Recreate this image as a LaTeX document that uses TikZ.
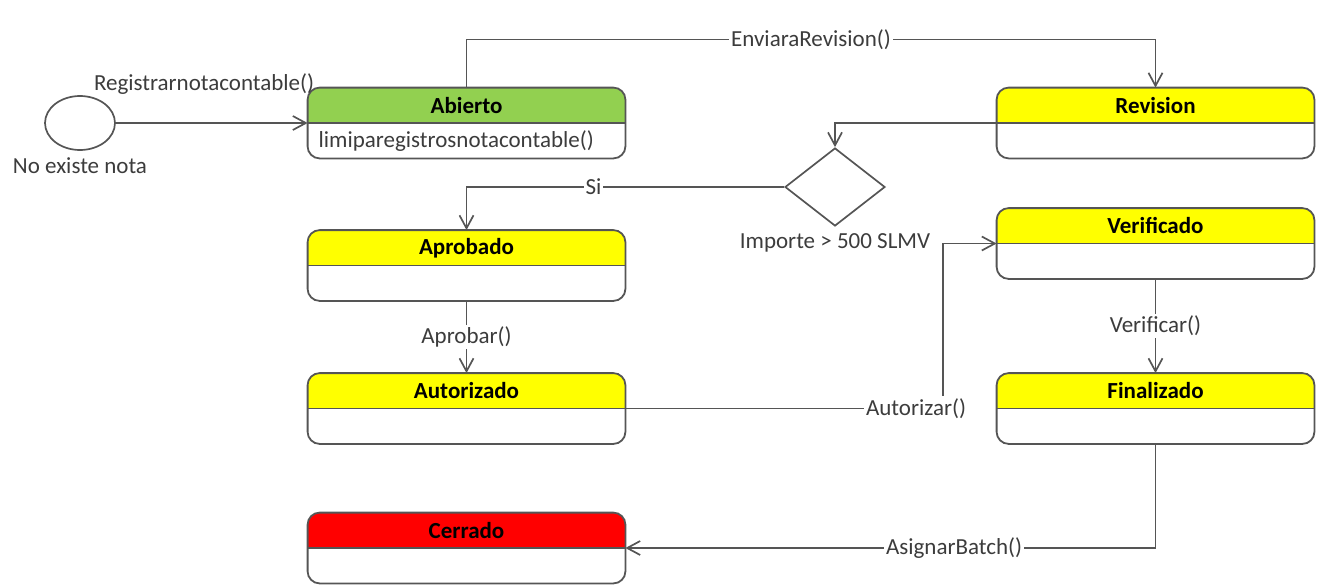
\documentclass[tikz,border=0pt]{standalone}
\usepackage{fontspec}
\setmainfont{Carlito}
\usepackage{tikz}
\usetikzlibrary{arrows.meta}
\usetikzlibrary{calc}
\usetikzlibrary{positioning}
\usetikzlibrary{shapes.geometric}
\definecolor{abiertogreen}{RGB}{146,208,80}
\definecolor{estadoyellow}{RGB}{255,255,0}
\definecolor{cerradored}{RGB}{255,0,0}
\definecolor{linegray}{RGB}{85,85,85}
\definecolor{textgray}{RGB}{60,60,60}
\tikzset{
	statebox/.style={shape=rectangle,minimum width=158.5pt,minimum height=35pt,inner sep=0pt},
	transition/.style={draw=linegray,line width=0.85pt,-{Straight Barb[length=6.5pt,width=7pt]}},
	trlabel/.style={fill=white,inner sep=1pt,text=textgray},
}
\newcommand{\drawstate}[4]{
	\draw #1 node (#2) [statebox] {};
	\begin{scope}
	\clip[rounded corners=6pt] (#2.north west) rectangle (#2.south east);
	\fill[#4] (#2.north west) rectangle (#2.east);
	\end{scope}
	\draw[linegray,line width=0.8pt] (#2.west) -- (#2.east);
	\draw[linegray,line width=0.9pt,rounded corners=6pt] (#2.north west) rectangle (#2.south east);
	\draw ($(#2.north)!0.5!(#2.center)$) node (#2-title) {\bfseries #3};
}

\begin{document}
\begin{tikzpicture}[x=0.5pt,y=-0.5pt,font=\fontsize{11.5}{13}\selectfont]
\useasboundingbox (0,0) rectangle (1323,584);
\drawstate{(466.5,123)}{abierto}{Abierto}{abiertogreen}
\drawstate{(1155.5,123)}{revision}{Revision}{estadoyellow}
\drawstate{(466.5,265.5)}{aprobado}{Aprobado}{estadoyellow}
\drawstate{(1155.5,243.5)}{verificado}{Verificado}{estadoyellow}
\drawstate{(466.5,408.5)}{autorizado}{Autorizado}{estadoyellow}
\drawstate{(1155.5,408.5)}{finalizado}{Finalizado}{estadoyellow}
\drawstate{(466.5,548)}{cerrado}{Cerrado}{cerradored}
\draw ($(abierto.south west)!0.5!(abierto.west)$) node (abierto-action) [anchor=west,text=textgray,xshift=2pt] {limiparegistrosnotacontable()};
\draw (80,123) node (inicio) [ellipse,draw=linegray,line width=0.85pt,minimum width=35pt,minimum height=27pt] {};
\draw (80,166) node (inicio-label) [text=textgray] {No existe nota};
\draw (835,187) node (decision) [diamond,draw=linegray,line width=0.85pt,aspect=1.28,minimum width=50pt,minimum height=39pt,inner sep=0pt] {};
\node (decision-label) [below=2pt of decision,text=textgray,inner sep=1pt] {Importe > 500 SLMV};
\coordinate (autorizar-bend) at (943,408.5);

\draw[transition] (inicio) -- (abierto.west) node[trlabel,fill=none,pos=0.46,yshift=19.5pt] {Registrarnotacontable()};
\draw[transition] (abierto.north) -- ++(0,-48) -| (revision.north) node[trlabel,pos=0.25] {EnviaraRevision()};
\draw[transition] (revision.west) -| (decision.north);
\draw[transition] (decision.west) -| (aprobado.north) node[trlabel,pos=0.3] {Si};
\draw[transition] (aprobado) -- (autorizado) node[trlabel,midway] {Aprobar()};
\draw[transition] (autorizado.east) -- (autorizar-bend) node[trlabel,pos=0.915] {Autorizar()} |- (verificado.west);
\draw[transition] (verificado) -- (finalizado) node[trlabel,midway] {Verificar()};
\draw[transition] (finalizado.south) |- (cerrado.east) node[trlabel,pos=0.69] {AsignarBatch()};
\end{tikzpicture}
\end{document}
